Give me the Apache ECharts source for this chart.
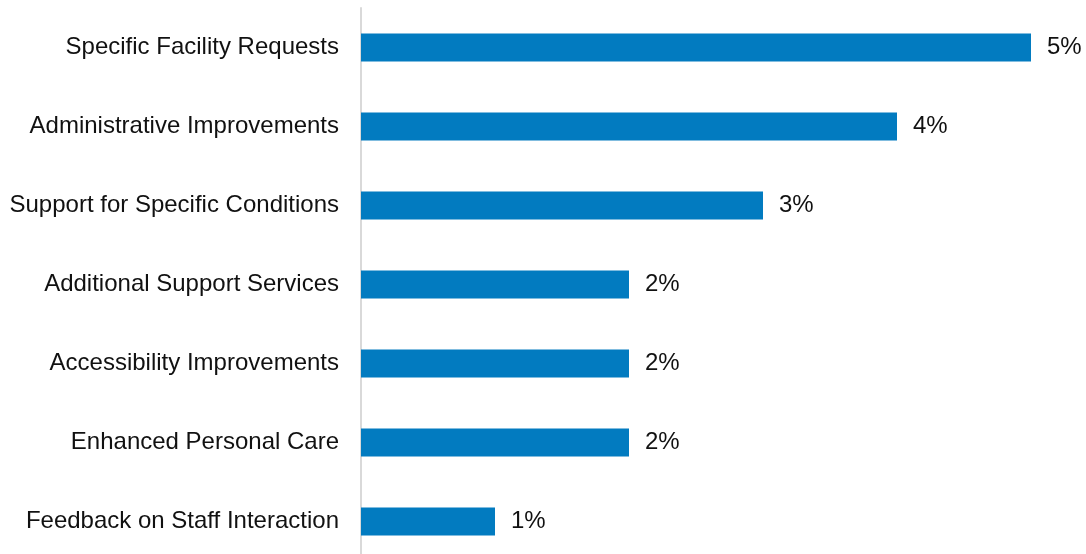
<!DOCTYPE html>
<html>
<head>
<meta charset="utf-8">
<script src="https://cdn.jsdelivr.net/npm/echarts@6/dist/echarts.min.js"></script>
<style>
  html, body { margin: 0; padding: 0; background: #ffffff; }
  #chart { width: 1086px; height: 554px; }
</style>
</head>
<body>
<div id="chart"></div>
<script>
// Share of comments by suggestion theme (percent)
const categories = [
  'Specific Facility Requests',
  'Administrative Improvements',
  'Support for Specific Conditions',
  'Additional Support Services',
  'Accessibility Improvements',
  'Enhanced Personal Care',
  'Feedback on Staff Interaction'
];
const shares = [5, 4, 3, 2, 2, 2, 1];

const FONT = "'Liberation Sans', Arial, sans-serif";

const chart = echarts.init(document.getElementById('chart'), null, { renderer: 'canvas' });
chart.setOption({
  animation: false,
  grid: {
    left: 361, top: 8, width: 670, height: 553,
    containLabel: false,
    outerBoundsMode: 'none'
  },
  xAxis: {
    type: 'value',
    min: 0,
    max: 5,
    show: false
  },
  yAxis: {
    type: 'category',
    data: categories,
    inverse: true,
    axisLine: { show: true, lineStyle: { color: '#d9d9d9', width: 2 } },
    axisTick: { show: false },
    axisLabel: {
      margin: 22,
      color: '#111111',
      fontFamily: FONT,
      fontSize: 24
    }
  },
  series: [{
    type: 'bar',
    data: shares,
    barWidth: 28,
    itemStyle: { color: '#027bc0' },
    label: {
      show: true,
      position: 'right',
      distance: 16,
      formatter: p => p.value + '%',
      color: '#111111',
      fontFamily: FONT,
      fontSize: 24
    }
  }]
});
</script>
</body>
</html>
